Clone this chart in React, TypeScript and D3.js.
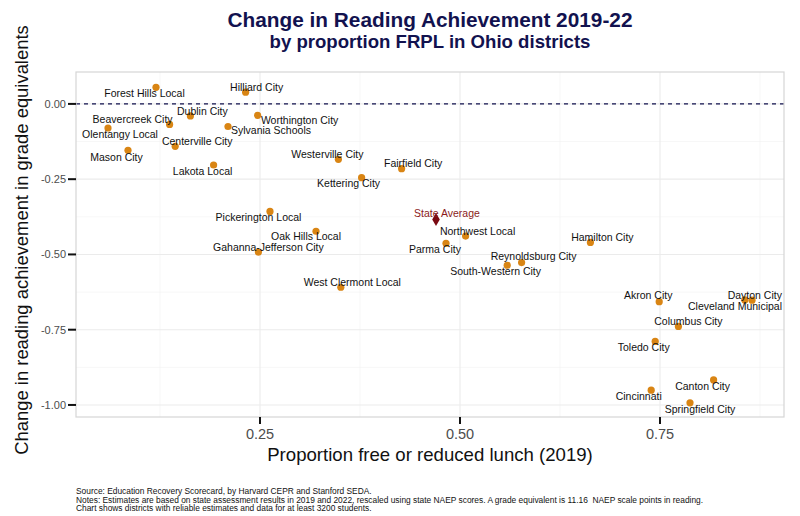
import React from "react";
import * as d3 from "d3";

const districts = [
  "Forest Hills Local", "Hilliard City", "Dublin City", "Beavercreek City", "Olentangy Local",
  "Sylvania Schools", "Worthington City", "Centerville City", "Mason City", "Lakota Local",
  "Westerville City", "Fairfield City", "Kettering City", "Pickerington Local", "Oak Hills Local",
  "Gahanna-Jefferson City", "West Clermont Local", "Northwest Local", "Parma City", "Reynoldsburg City",
  "South-Western City", "Hamilton City", "Akron City", "Dayton City", "Cleveland Municipal",
  "Columbus City", "Toledo City", "Canton City", "Cincinnati", "Springfield City",
];
const frpl = [
  0.12, 0.232, 0.163, 0.137, 0.06,
  0.21, 0.247, 0.144, 0.085, 0.192,
  0.348, 0.427, 0.377, 0.2625, 0.32,
  0.248, 0.351, 0.507, 0.4825, 0.577,
  0.559, 0.663, 0.749, 0.856, 0.865,
  0.773, 0.744, 0.817, 0.739, 0.7875,
];
const change = [
  0.055, 0.039, -0.04, -0.068, -0.08,
  -0.075, -0.038, -0.141, -0.154, -0.203,
  -0.184, -0.215, -0.245, -0.357, -0.423,
  -0.492, -0.609, -0.439, -0.463, -0.527,
  -0.536, -0.46, -0.657, -0.651, -0.652,
  -0.739, -0.789, -0.917, -0.951, -0.993,
];
// repelled label nudges (px) for each district label
const labelNudge: [number, number][] = [
  [-11.5, 6], [11, -5], [12, -5], [-37, -5], [12, 6],
  [43, 4], [42, 5], [22, -5], [-11.5, 7], [-11, 6],
  [-11, -5], [11.6, -5], [-13, 6], [-11.5, 6], [-10, 5],
  [10, -5], [11.5, -5], [12, -5], [-11, 6], [12, -6],
  [-11.6, 6], [12, -5], [-11, -6], [10, -5], [-17, 6],
  [10, -5], [-11.5, 6], [-11, 6], [-12.5, 6], [10, 6],
];
const stateAvgLabel = "State Average";
const stateAvgX = 0.47;
const stateAvgY = -0.384;

const xTicks = [0.25, 0.5, 0.75];
const xTickLabels = ["0.25", "0.50", "0.75"];
const yTicks = [0, -0.25, -0.5, -0.75, -1];
const yTickLabels = ["0.00", "-0.25", "-0.50", "-0.75", "-1.00"];
const xMinor = [0.125, 0.375, 0.625, 0.875];
const yMinor = [0.125, -0.125, -0.375, -0.625, -0.875];

const titleLines = ["Change in Reading Achievement 2019-22", "by proportion FRPL in Ohio districts"];
const xTitle = "Proportion free or reduced lunch (2019)";
const yTitle = "Change in reading achievement in grade equivalents";
const footnotes = [
  "Source: Education Recovery Scorecard, by Harvard CEPR and Stanford SEDA.",
  "Notes: Estimates are based on state assessment results in 2019 and 2022, rescaled using state NAEP scores. A grade equivalent is 11.16  NAEP scale points in reading.",
  "Chart shows districts with reliable estimates and data for at least 3200 students.",
];

const W = 800, H = 516;
const L = 76, R = 784, T = 72, B = 417;
const FONT = "'Liberation Sans', Arial, sans-serif";

export default function App() {
  const x = d3.scaleLinear().domain([0.02, 0.905]).range([L, R]);
  const y = d3.scaleLinear().domain([-1.04, 0.106]).range([B, T]);
  const navy = "#12124f";
  const pc = (L + R) / 2;
  const diamond = d3.symbol().type(d3.symbolDiamond).size(50)();

  return (
    <svg width={W} height={H} style={{ position: "absolute", left: 0, top: 0, background: "#fff" }} fontFamily={FONT}>
      <rect x={0} y={0} width={W} height={H} fill="#fff" />
      {titleLines.map((t, i) => (
        <text key={t} x={pc} y={i === 0 ? 27 : 48} textAnchor="middle" fontWeight="bold" fontSize={i === 0 ? 20.8 : 18.6} fill={navy}>
          {t}
        </text>
      ))}
      {/* grid */}
      {xMinor.filter(v => x(v) > L && x(v) < R).map(v => (
        <line key={"xm" + v} x1={x(v)} x2={x(v)} y1={T} y2={B} stroke="#f2f2f2" strokeWidth={0.6} />
      ))}
      {yMinor.filter(v => y(v) > T && y(v) < B).map(v => (
        <line key={"ym" + v} x1={L} x2={R} y1={y(v)} y2={y(v)} stroke="#f2f2f2" strokeWidth={0.6} />
      ))}
      {xTicks.map(v => (
        <line key={"xg" + v} x1={x(v)} x2={x(v)} y1={T} y2={B} stroke="#ebebeb" strokeWidth={1.1} />
      ))}
      {yTicks.map(v => (
        <line key={"yg" + v} x1={L} x2={R} y1={y(v)} y2={y(v)} stroke="#ebebeb" strokeWidth={1.1} />
      ))}
      <line x1={L} x2={R} y1={y(0)} y2={y(0)} stroke={navy} strokeWidth={1.1} strokeDasharray="4,4" />
      <rect x={L} y={T} width={R - L} height={B - T} fill="none" stroke="#d6d6d6" strokeWidth={1.2} />
      {/* axes ticks */}
      {xTicks.map((v, i) => (
        <g key={"xt" + v}>
          <line x1={x(v)} x2={x(v)} y1={B} y2={B + 7} stroke="#111" strokeWidth={2} />
          <text x={x(v)} y={B + 22} textAnchor="middle" fontSize={14.5} fill="#4d4d4d">{xTickLabels[i]}</text>
        </g>
      ))}
      {yTicks.map((v, i) => (
        <g key={"yt" + v}>
          <line x1={L - 8} x2={L} y1={y(v)} y2={y(v)} stroke="#111" strokeWidth={2} />
          <text x={L - 10} y={y(v) + 4} textAnchor="end" fontSize={11} fill="#4d4d4d">{yTickLabels[i]}</text>
        </g>
      ))}
      <text x={pc} y={461} textAnchor="middle" fontSize={18.6} fill="#111">{xTitle}</text>
      <text transform={`translate(27.5,240) rotate(-90)`} textAnchor="middle" fontSize={18.4} fill="#111">{yTitle}</text>
      {/* points */}
      {districts.map((d, i) => (
        <circle key={"p" + d} cx={x(frpl[i])} cy={y(change[i])} r={3.6} fill="#d98514" />
      ))}
      <path d={diamond!} transform={`translate(${x(stateAvgX)},${y(stateAvgY)})`} fill="#7a0a12" />
      {/* labels */}
      {districts.map((d, i) => (
        <text key={"l" + d} x={x(frpl[i]) + labelNudge[i][0]} y={y(change[i]) + labelNudge[i][1]} dy="0.35em"
          textAnchor="middle" fontSize={10.5} fill="#111">{d}</text>
      ))}
      <text x={x(stateAvgX) + 11} y={y(stateAvgY) - 6} dy="0.35em" textAnchor="middle" fontSize={10.5} fill="#8b1a1a">
        {stateAvgLabel}
      </text>
      {footnotes.map((f, i) => (
        <text key={i} x={L} y={494 + i * 8.6} fontSize={8.4} fill="#111" style={{ whiteSpace: "pre" }}>{f}</text>
      ))}
    </svg>
  );
}
